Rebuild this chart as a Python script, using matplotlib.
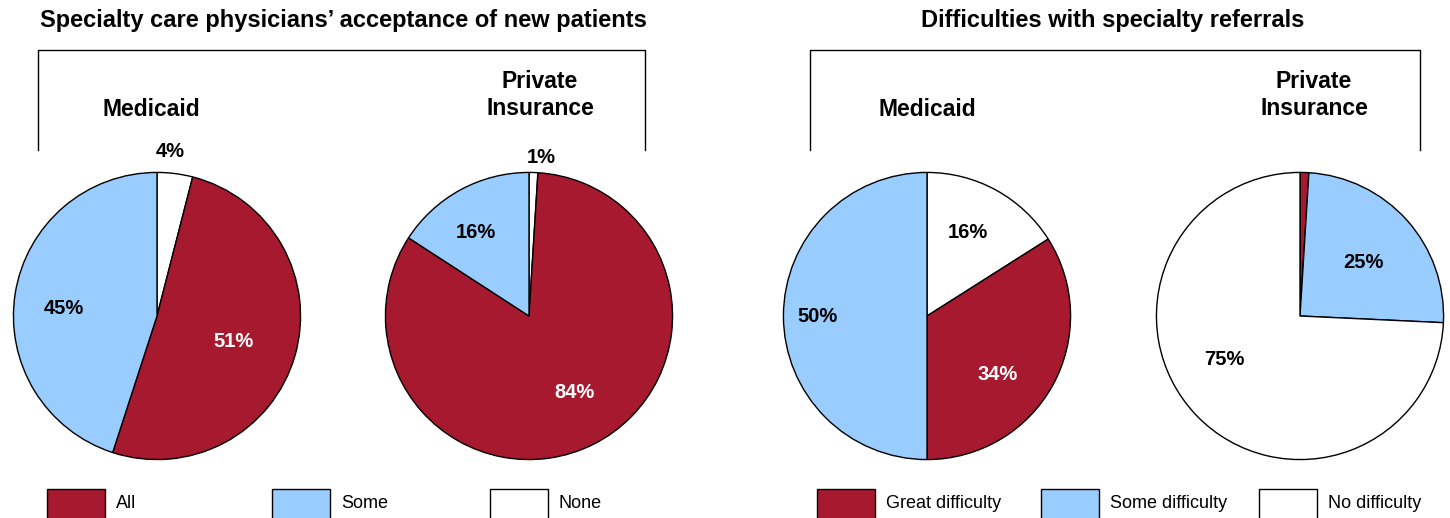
import matplotlib
matplotlib.use('Agg')
import matplotlib.pyplot as plt
from matplotlib.lines import Line2D
from matplotlib.patches import Rectangle
import numpy as np

plt.rcParams['font.family'] = ['Liberation Sans', 'DejaVu Sans']

# 数据
titles = ['Specialty care physicians\u2019 acceptance of new patients',
          'Difficulties with specialty referrals']
pie_names = ['Medicaid', 'Private\nInsurance', 'Medicaid', 'Private\nInsurance']

accept_labels = ['None', 'All', 'Some']
accept_medicaid = [4, 51, 45]
accept_private = [1, 84, 16]

refer_labels_med = ['No difficulty', 'Great difficulty', 'Some difficulty']
refer_medicaid = [16, 34, 50]
refer_labels_priv = ['Great difficulty', 'Some difficulty', 'No difficulty']
refer_private = [1, 25, 75]

legend_left = ['All', 'Some', 'None']
legend_right = ['Great difficulty', 'Some difficulty', 'No difficulty']

RED = '#A6192E'
BLUE = '#99CCFF'
WHITE = '#FFFFFF'
colors = {'All': RED, 'Some': BLUE, 'None': WHITE,
          'Great difficulty': RED, 'Some difficulty': BLUE, 'No difficulty': WHITE}

W, H = 1450, 518
fig = plt.figure(figsize=(W / 100, H / 100), dpi=100)


def fx(x):
    return x / W


def fy(y):
    return 1 - y / H


# 每个标签的 (角度偏移, 半径)，手动微调
pies = [
    (157, accept_medicaid, accept_labels, [(-2.7, 1.15), (2.5, 0.56), (-4.1, 0.65)]),
    (529, accept_private, accept_labels, [(2.5, 1.11), (-4.2, 0.62), (-3.9, 0.69)]),
    (927, refer_medicaid, refer_labels_med, [(-2.5, 0.65), (10.9, 0.64), (0, 0.76)]),
    (1300, refer_private, refer_labels_priv, [(1.8, 1.11), (1.7, 0.58), (14.0, 0.61)]),
]
R = 145
CY = 316

for cx, vals, labs, lpos in pies:
    ax = fig.add_axes([fx(cx - R), fy(CY + R), 2 * R / W, 2 * R / H])
    cols = [colors[l] for l in labs]
    ax.pie(vals, colors=cols, startangle=90, counterclock=False,
           wedgeprops=dict(edgecolor='black', linewidth=1.0))
    ax.set_xlim(-1.01, 1.01)
    ax.set_ylim(-1.01, 1.01)
    ax.set_aspect('equal')
    ax.axis('off')
    tot = sum(vals)
    cum = 0
    for v, l, (shift, r) in zip(vals, labs, lpos):
        mid = np.deg2rad((cum + v / 2) / tot * 360 + shift)
        cum += v
        x, y = r * np.sin(mid), r * np.cos(mid)
        tc = 'white' if colors[l] == RED else 'black'
        ax.text(x, y, f'{v}%', ha='center', va='center', fontsize=14.5,
                fontweight='bold', color=tc, clip_on=False)

# 标题和括号
title_x = [343, 1113]
brackets = [(38, 645), (810, 1420)]
for t, tx, (x0, x1) in zip(titles, title_x, brackets):
    fig.text(fx(tx), fy(21), t, ha='center', va='center', fontsize=17, fontweight='bold')
    line = Line2D([fx(x0), fx(x0), fx(x1), fx(x1)], [fy(150), fy(50), fy(50), fy(150)],
                  transform=fig.transFigure, color='black', linewidth=1.0)
    fig.add_artist(line)

name_x = [151, 540, 927, 1314]
for n, x in zip(pie_names, name_x):
    yy = 109 if '\n' not in n else 95
    fig.text(fx(x), fy(yy), n, ha='center', va='center', fontsize=16.5,
             fontweight='bold', linespacing=1.25)

# 图例
leg_boxes = [47, 272, 490, 817, 1041, 1259]
leg_labels = legend_left + legend_right
for bx, lab in zip(leg_boxes, leg_labels):
    rect = Rectangle((fx(bx), fy(520)), 58 / W, 31 / H, transform=fig.transFigure,
                     facecolor=colors[lab], edgecolor='black', linewidth=1.0)
    fig.add_artist(rect)
    fig.text(fx(bx + 69), fy(503), lab, ha='left', va='center', fontsize=13)

fig.savefig('out.png', dpi=100)
